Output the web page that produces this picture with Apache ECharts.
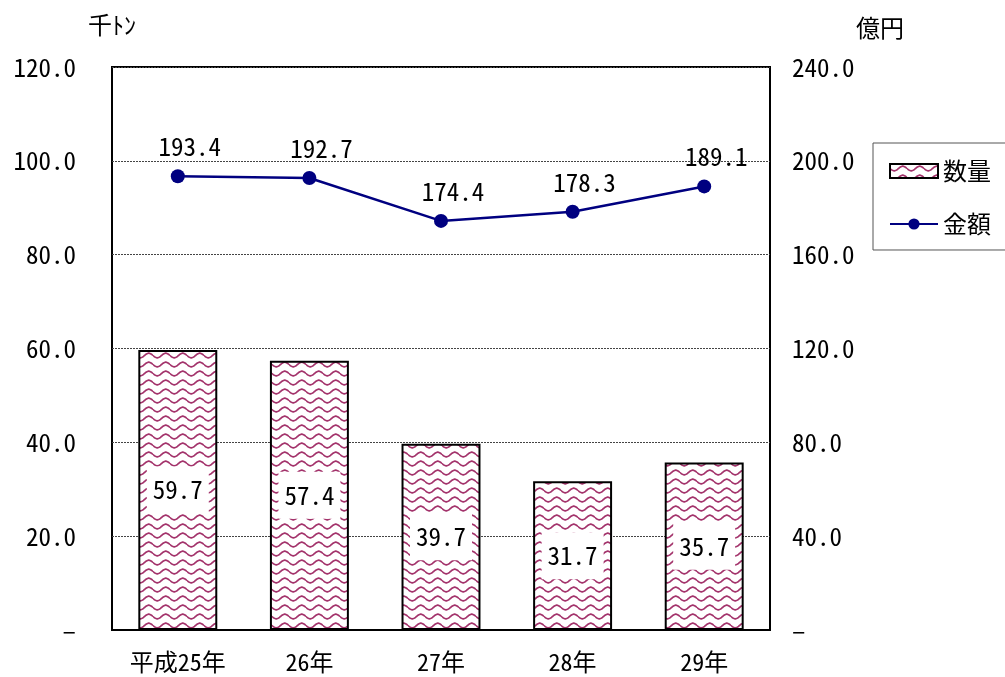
<!DOCTYPE html>
<html>
<head>
<meta charset="utf-8">
<script src="https://cdn.jsdelivr.net/npm/echarts@6/dist/echarts.min.js"></script>
<style>
  html, body { margin: 0; padding: 0; background: #fff; }
  #main { width: 1005px; height: 677px; }
</style>
</head>
<body>
<div id="main"></div>
<script>
var myChart = echarts.init(document.getElementById('main'));

// 年次
var categories = ['平成25年', '26年', '27年', '28年', '29年'];

// 数量(千トン)
var quantity = [59.7, 57.4, 39.7, 31.7, 35.7];

// 金額(億円)
var amount = [193.4, 192.7, 174.4, 178.3, 189.1];

var FONT = "'Noto Sans Mono CJK JP', 'DejaVu Sans Mono', 'Noto Sans CJK JP', monospace";

// 波模様のパターン
function wavePattern() {
  var c = document.createElement('canvas');
  c.width = 17;
  c.height = 9;
  var ctx = c.getContext('2d');
  ctx.fillStyle = '#fff';
  ctx.fillRect(0, 0, 17, 9);
  ctx.strokeStyle = '#a3336b';
  ctx.lineWidth = 1.7;
  ctx.beginPath();
  for (var x = 0; x <= 17; x += 0.5) {
    var y = 4.5 + 2.3 * Math.sin(x / 17 * Math.PI * 2);
    if (x === 0) ctx.moveTo(x, y); else ctx.lineTo(x, y);
  }
  ctx.stroke();
  return c;
}

function fmt(v) {
  return v === 0 ? '–' : v.toFixed(1);
}

var option = {
  backgroundColor: '#fff',
  animation: false,
  textStyle: { fontFamily: FONT },
  grid: {
    left: 112,
    right: 235,
    top: 67,
    bottom: 47,
    show: true,
    borderColor: '#000',
    borderWidth: 2
  },
  legend: {
    orient: 'vertical',
    left: 873,
    top: 143,
    padding: [16, 30, 14, 16],
    itemGap: 29,
    itemWidth: 48,
    itemHeight: 14,
    backgroundColor: '#fff',
    borderColor: '#555',
    borderWidth: 1,
    borderRadius: 0,
    textStyle: { fontSize: 24, color: '#000', fontFamily: FONT },
    data: [{ name: '数量', icon: 'rect' }, { name: '金額' }]
  },
  xAxis: {
    type: 'category',
    data: categories,
    axisTick: { show: false },
    axisLine: { lineStyle: { color: '#000', width: 2 } },
    axisLabel: { color: '#000', fontSize: 24, margin: 20 }
  },
  yAxis: [{
    type: 'value',
    name: '千ﾄﾝ',
    nameGap: 30,
    nameTextStyle: { color: '#000', fontSize: 24 },
    min: 0,
    max: 120,
    interval: 20,
    axisLine: { show: false },
    axisTick: { show: false },
    axisLabel: { color: '#000', fontSize: 25, margin: 36, formatter: fmt },
    splitLine: { lineStyle: { color: '#444', type: [2, 1], width: 1 } }
  }, {
    type: 'value',
    name: '億円',
    nameGap: 27,
    nameTextStyle: { color: '#000', fontSize: 24, padding: [0, 0, 0, 220] },
    min: 0,
    max: 240,
    interval: 40,
    axisLine: { show: false },
    axisTick: { show: false },
    axisLabel: { color: '#000', fontSize: 25, margin: 22, formatter: fmt },
    splitLine: { show: false }
  }],
  series: [{
    name: '数量',
    type: 'bar',
    yAxisIndex: 0,
    barCategoryGap: '40%',
    data: quantity,
    itemStyle: {
      color: { image: wavePattern(), repeat: 'repeat' },
      borderColor: '#000',
      borderWidth: 2
    },
    label: {
      show: true,
      position: 'inside',
      color: '#000',
      fontSize: 25,
      backgroundColor: '#fff',
      padding: [11, 6],
      formatter: function (p) { return p.value.toFixed(1); }
    }
  }, {
    name: '金額',
    type: 'line',
    yAxisIndex: 1,
    data: amount,
    symbol: 'circle',
    symbolSize: 14,
    lineStyle: { color: '#000080', width: 2.5 },
    itemStyle: { color: '#000080' },
    label: {
      show: true,
      position: 'top',
      distance: 10,
      offset: [12, 0],
      color: '#000',
      fontSize: 25,
      formatter: function (p) { return p.value.toFixed(1); }
    }
  }]
};

myChart.setOption(option);
</script>
</body>
</html>
